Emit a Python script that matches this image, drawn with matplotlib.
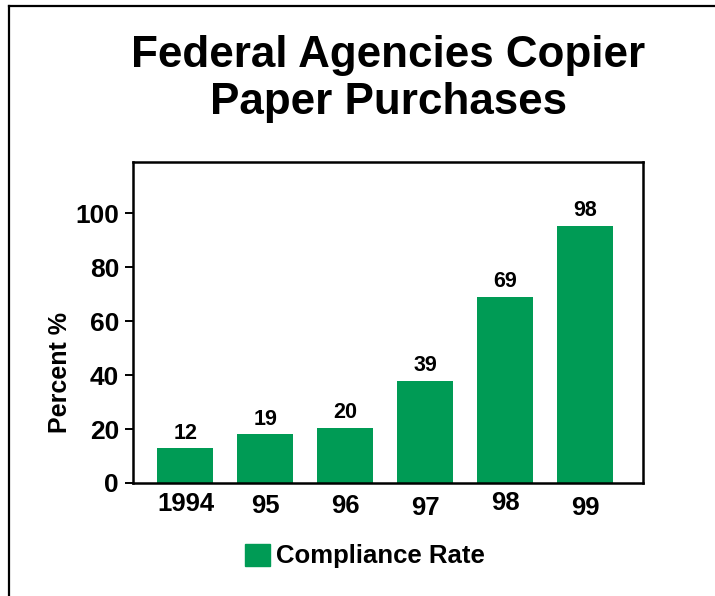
import matplotlib.pyplot as plt
import matplotlib.transforms as mtransforms
from matplotlib.patches import Patch

years = ['1994', '95', '96', '97', '98', '99']
bar_heights = [12.8, 18.0, 20.4, 37.8, 68.9, 95.2]   # as drawn in the picture
bar_labels = ['12', '19', '20', '39', '69', '98']     # as printed above the bars
y_ticks = [0, 20, 40, 60, 80, 100]

green = '#009b55'
plt.rcParams['font.family'] = ['Liberation Sans', 'DejaVu Sans']
plt.rcParams['font.weight'] = 'bold'

fig = plt.figure(figsize=(7.15, 5.96), dpi=100)
fig.patch.set_facecolor('white')

# outer frame (left and top edge visible)
fig.add_artist(plt.Line2D([9/715, 9/715], [0, 1 - 6/596], transform=fig.transFigure,
                          color='black', lw=1.6))
fig.add_artist(plt.Line2D([9/715, 1.0], [1 - 6/596, 1 - 6/596], transform=fig.transFigure,
                          color='black', lw=1.6))

fig.text(388/715, 1 - 35/596, 'Federal Agencies Copier\nPaper Purchases',
         ha='center', va='top', fontsize=31.7, fontweight='bold', linespacing=1.2)

ax = fig.add_axes([133/715, 1 - 483/596, (643 - 133)/715, (483 - 162)/596])
x = list(range(len(years)))
ax.bar(x, bar_heights, width=0.7, color=green, zorder=2)
for xi, h, lab in zip(x, bar_heights, bar_labels):
    ax.annotate(lab, (xi, h), xytext=(0, 3.5), textcoords='offset points',
                ha='center', va='bottom', fontsize=15.5, fontweight='bold')

ax.set_xlim(-0.656, 5.72)
ax.set_ylim(0, 119)
ax.set_yticks(y_ticks)
ax.set_xticks(x)
ax.set_xticklabels(years)
ax.tick_params(axis='y', length=6, width=1.4, pad=4, labelsize=19)
ax.tick_params(axis='x', length=0, pad=6, labelsize=18.5)
for s in ax.spines.values():
    s.set_linewidth(1.8)

# the year labels sit at slightly different heights in the original
stagger = [1, 3, 3, 5, 0, 5]
for lab, dy in zip(ax.get_xticklabels(), stagger):
    lab.set_transform(lab.get_transform() +
                      mtransforms.ScaledTranslation(0, -dy / 100, fig.dpi_scale_trans))

ax.set_ylabel('Percent %', fontsize=18, fontweight='bold')
ax.yaxis.set_label_coords(-0.12, 0.343)

fig.legend(handles=[Patch(color=green, label='Compliance Rate')],
           loc='center', bbox_to_anchor=(365/715, 1 - 556/596), frameon=False,
           fontsize=18.5, handlelength=0.95, handleheight=0.95, handletextpad=0.25)

fig.savefig('out.png', dpi=100, facecolor='white')
